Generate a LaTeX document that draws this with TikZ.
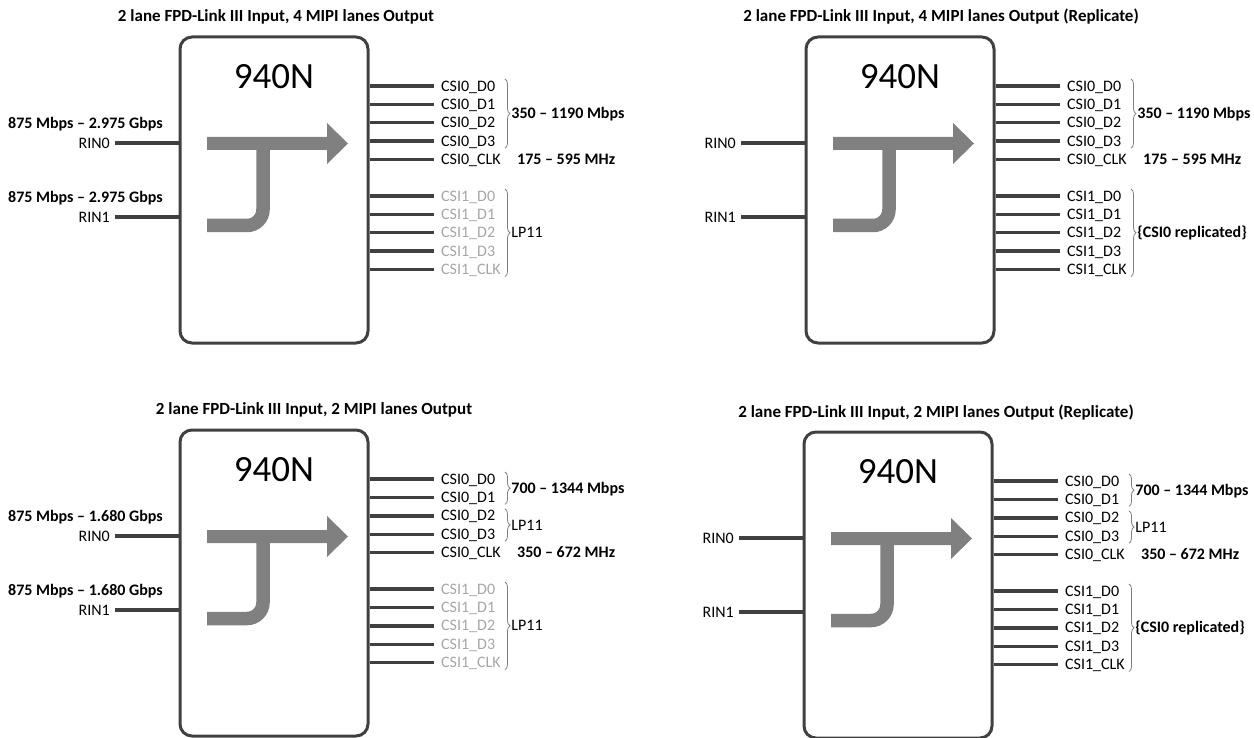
\documentclass[tikz,border=0pt]{standalone}
\usepackage{fontspec}
\setmainfont{Carlito}
\usetikzlibrary{positioning,decorations.pathreplacing}

\definecolor{chipline}{HTML}{404040}
\definecolor{flowgray}{HTML}{808080}
\definecolor{idlegray}{HTML}{A6A6A6}
\definecolor{bracegray}{HTML}{7F7F7F}

\begin{document}
\begin{tikzpicture}[x=1pt,y=-1pt,
   chip/.style={draw=chipline,line width=3pt,rounded corners=12pt,
                minimum width=188pt,minimum height=306pt,inner sep=0pt},
   chipname/.style={font=\fontsize{37}{40}\selectfont},
   heading/.style={font=\bfseries\fontsize{17}{19}\selectfont},
   pinname/.style={inner sep=0pt,text height=10.3pt,text depth=0pt,
                   font=\fontsize{16}{18}\selectfont},
   rate/.style={pinname,font=\bfseries\fontsize{16}{18}\selectfont},
   wire/.style={draw=chipline,line width=3.4pt},
   flow/.style={draw=flowgray,line width=13.5pt},
   grp/.style={draw=bracegray,line width=0.8pt,decorate,
               decoration={brace,amplitude=5pt}}]
   \useasboundingbox (0,0) rectangle (1254,738);

   % the four deserializer panels share one drawing
   \foreach \pn/\dx/\dy/\lanecol in {tl/0/0/idlegray, tr/626/0/black,
                                     bl/0/393/idlegray, br/624/395/black} {
     \begin{scope}[shift={(\dx,\dy)}]
       \node[chip] (\pn-box) at (274,190) {};
       \node[chipname] (\pn-name) at (274,77) {940N};
       % routing arrow
       \fill[flowgray] (207,137) -- (327,137) -- (327,123) -- (348,143.5)
            -- (327,164) -- (327,150) -- (207,150) -- cycle;
       \draw[flow,rounded corners=16pt] (263,145) -- (263,225.5) -- (207,225.5);
       % FPD-Link inputs
       \node[pinname,anchor=east] (\pn-rin0) at (110,143) {RIN0};
       \node[pinname,anchor=east] (\pn-rin1) at (110,217) {RIN1};
       \draw[wire] ([xshift=5pt]\pn-rin0.east) -- (\pn-rin0 -| \pn-box.west);
       \draw[wire] ([xshift=5pt]\pn-rin1.east) -- (\pn-rin1 -| \pn-box.west);
       % CSI outputs
       \foreach \lbl/\yy/\nm in {CSI0\_D0/86/0d0, CSI0\_D1/104.4/0d1,
                                 CSI0\_D2/122.8/0d2, CSI0\_D3/141.2/0d3,
                                 CSI0\_CLK/159.6/0clk} {
         \node[pinname,anchor=west] (\pn-\nm) at (441,\yy) {\lbl};
         \draw[wire] (\pn-\nm -| \pn-box.east) -- ([xshift=-7pt]\pn-\nm.west);
       }
       \foreach \lbl/\yy/\nm in {CSI1\_D0/196/1d0, CSI1\_D1/214.4/1d1,
                                 CSI1\_D2/232.8/1d2, CSI1\_D3/251.2/1d3,
                                 CSI1\_CLK/269.6/1clk} {
         \node[pinname,anchor=west,text=\lanecol] (\pn-\nm) at (441,\yy) {\lbl};
         \draw[wire] (\pn-\nm -| \pn-box.east) -- ([xshift=-7pt]\pn-\nm.west);
       }
     \end{scope}
   }

   % titles
   \node[heading] (tl-title) at (276,17) {2 lane FPD-Link III Input, 4 MIPI lanes Output};
   \node[heading] (tr-title) at (941,17) {2 lane FPD-Link III Input, 4 MIPI lanes Output (Replicate)};
   \node[heading] (bl-title) at (314,410) {2 lane FPD-Link III Input, 2 MIPI lanes Output};
   \node[heading] (br-title) at (936,413) {2 lane FPD-Link III Input, 2 MIPI lanes Output (Replicate)};

   % input rates
   \node[rate,anchor=east] (tl-in0) at (163,123) {875 Mbps -- 2.975 Gbps};
   \node[rate,anchor=east] (tl-in1) at (163,197) {875 Mbps -- 2.975 Gbps};
   \node[rate,anchor=east] (bl-in0) at (163,516) {875 Mbps -- 1.680 Gbps};
   \node[rate,anchor=east] (bl-in1) at (163,590) {875 Mbps -- 1.680 Gbps};

   % 4 lane groups
   \foreach \pn/\rest in {tl/LP11, tr/\textbf{\{CSI0 replicated\}}} {
     \draw[grp] ([xshift=64pt,yshift=7pt]\pn-0d0.west) --
        node[rate,anchor=west,xshift=6pt] (\pn-r0) {350 -- 1190 Mbps}
        ([xshift=64pt,yshift=-7pt]\pn-0d3.west);
     \node[rate,anchor=west] (\pn-clk) at ([xshift=76pt]\pn-0clk.west) {175 -- 595 MHz};
     \draw[grp] ([xshift=64pt,yshift=7pt]\pn-1d0.west) --
        node[pinname,anchor=west,xshift=6pt] (\pn-r1) {\rest}
        ([xshift=64pt,yshift=-7pt]\pn-1clk.west);
   }

   % 2 lane groups
   \foreach \pn/\rest in {bl/LP11, br/\textbf{\{CSI0 replicated\}}} {
     \draw[grp] ([xshift=64pt,yshift=7pt]\pn-0d0.west) --
        node[rate,anchor=west,xshift=6pt] (\pn-r0) {700 -- 1344 Mbps}
        ([xshift=64pt,yshift=-7pt]\pn-0d1.west);
     \draw[grp] ([xshift=64pt,yshift=7pt]\pn-0d2.west) --
        node[pinname,anchor=west,xshift=6pt] (\pn-lp) {LP11}
        ([xshift=64pt,yshift=-7pt]\pn-0d3.west);
     \node[rate,anchor=west] (\pn-clk) at ([xshift=76pt]\pn-0clk.west) {350 -- 672 MHz};
     \draw[grp] ([xshift=64pt,yshift=7pt]\pn-1d0.west) --
        node[pinname,anchor=west,xshift=6pt] (\pn-r1) {\rest}
        ([xshift=64pt,yshift=-7pt]\pn-1clk.west);
   }
\end{tikzpicture}
\end{document}
